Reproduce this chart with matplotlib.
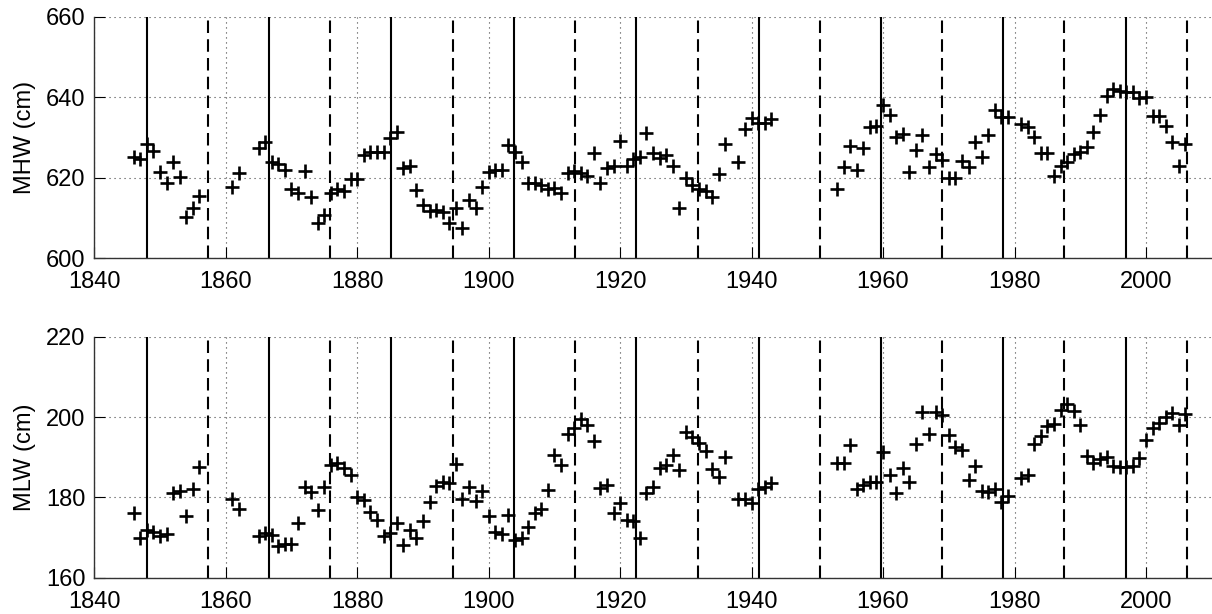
import matplotlib
matplotlib.use("Agg")
import matplotlib.pyplot as plt
import numpy as np

plt.rcParams['font.family'] = ['Liberation Sans', 'DejaVu Sans']

years = ([1846, 1847, 1848, 1849, 1850, 1851, 1852, 1853, 1854, 1855, 1856,
          1861, 1862]
         + list(range(1865, 1937)) + list(range(1938, 1944))
         + list(range(1953, 1980)) + list(range(1981, 2007)))

mhw = [625.2, 624.7, 628.4, 626.7, 621.5, 618.8, 623.8, 620.3, 610.2, 612.4, 615.5,
       617.6, 621.1,
       # 1865-1936
       627.3, 629.0, 624.0, 623.4, 621.9, 617.1, 616.2, 621.8, 615.2, 608.7,
       610.8, 616.2, 617.1, 616.6, 619.6, 619.6, 625.7, 626.5, 626.5, 626.5,
       629.8, 631.4, 622.4, 622.8, 617.0, 613.2, 611.8, 612.0, 611.6, 608.8,
       612.4, 607.6, 614.6, 612.4, 617.8, 621.5, 621.9, 621.9, 628.1, 626.5,
       623.8, 618.8, 618.8, 618.2, 617.1, 617.4, 616.3, 621.3, 621.8, 621.1,
       620.5, 626.2, 618.8, 622.4, 622.8, 629.2, 622.9, 624.6, 625.2, 631.1,
       626.1, 624.8, 625.7, 622.8, 612.4, 619.9, 618.2, 617.2, 616.8, 615.3,
       620.9, 628.5,
       # 1938-1943
       623.8, 632.0, 634.8, 633.7, 633.7, 634.5,
       # 1953-1979
       617.2, 622.7, 628.0, 621.9, 627.5, 632.7, 632.8, 638.1, 635.6, 630.2,
       630.8, 621.5, 626.9, 630.6, 622.7, 625.9, 624.4, 619.9, 619.9, 624.2,
       622.7, 628.8, 625.2, 630.6, 636.8, 635.2, 635.0,
       # 1981-2006
       633.3, 632.5, 630.2, 626.2, 626.2, 620.5, 623.0, 624.0, 625.9, 626.5,
       627.7, 631.3, 635.6, 640.3, 642.0, 641.6, 641.4, 641.4, 639.9, 640.1,
       635.3, 635.3, 632.8, 628.8, 623.0, 628.3]

mlw = [176.0, 170.0, 172.0, 171.5, 170.5, 171.0, 181.2, 181.6, 175.4, 182.0, 187.6,
       179.6, 177.0,
       # 1865-1936
       170.5, 171.1, 170.6, 168.0, 168.5, 168.3, 173.7, 182.7, 181.4, 176.9,
       182.7, 188.1, 188.5, 187.2, 185.6, 180.2, 179.3, 176.4, 174.4, 170.4,
       171.1, 173.6, 168.1, 171.9, 170.0, 174.0, 178.9, 182.8, 183.9, 183.7,
       188.3, 179.5, 182.7, 179.2, 181.6, 175.4, 171.5, 171.0, 175.6, 169.5,
       169.8, 172.7, 176.0, 177.1, 181.8, 190.5, 188.0, 195.9, 197.3, 199.5,
       198.0, 194.0, 182.4, 183.2, 176.0, 178.7, 174.4, 174.0, 170.0, 181.0,
       182.5, 187.2, 188.0, 190.5, 186.8, 196.3, 195.1, 193.6, 191.5, 187.1,
       185.1, 190.1,
       # 1938-1943
       179.5, 179.5, 178.5, 182.0, 182.7, 183.5,
       # 1953-1979
       188.6, 188.6, 193.0, 182.0, 183.2, 183.9, 183.9, 191.4, 185.6, 181.2,
       187.2, 183.9, 193.4, 201.3, 195.7, 201.3, 200.5, 195.5, 192.6, 191.8,
       184.3, 187.8, 181.7, 181.4, 182.2, 178.9, 180.3,
       # 1981-2006
       184.9, 185.6, 193.3, 195.3, 197.8, 198.3, 201.8, 203.2, 201.5, 198.0,
       190.3, 188.6, 189.5, 190.0, 187.9, 187.6, 187.6, 187.9, 189.7, 194.3,
       197.2, 198.4, 199.9, 200.9, 198.0, 200.7]

nodal_max = [1848.0, 1866.6, 1885.2, 1903.8, 1922.4, 1941.1, 1959.7, 1978.3, 1996.9]
nodal_min = [1857.3, 1875.9, 1894.5, 1913.1, 1931.8, 1950.4, 1969.0, 1987.6, 2006.2]

xticks = [1840, 1860, 1880, 1900, 1920, 1940, 1960, 1980, 2000]
mhw_ticks = [600, 620, 640, 660]
mlw_ticks = [160, 180, 200, 220]
ylabels = ['MHW (cm)', 'MLW (cm)']

fig = plt.figure(figsize=(12.12, 6.14), dpi=100)
W, H = 1212, 614
left = 94.3 / W
width = (1211.7 - 94.3) / W
ax1 = fig.add_axes([left, 1 - 258.3 / H, width, 241.6 / H])
ax2 = fig.add_axes([left, 1 - 577.7 / H, width, 241.0 / H])

for ax, vals, yt, lab in [(ax1, mhw, mhw_ticks, ylabels[0]), (ax2, mlw, mlw_ticks, ylabels[1])]:
    ax.set_xlim(1840, 2010)
    ax.set_ylim(yt[0], yt[-1])
    ax.set_xticks(xticks)
    ax.set_yticks(yt)
    ax.grid(True, color='#444444', linestyle=(0, (1, 3.5)), linewidth=0.8)
    ax.set_axisbelow(True)
    for xv in nodal_max:
        ax.axvline(xv, color='black', linewidth=1.5, zorder=2)
    for xv in nodal_min:
        l = ax.axvline(xv, color='black', linewidth=1.5, zorder=2)
        l.set_dashes((6, 3))
    ax.plot(years, vals, linestyle='none', marker='+', markersize=10,
            markeredgewidth=1.9, color='black', zorder=3)
    ax.spines['top'].set_visible(False)
    ax.spines['right'].set_visible(False)
    for s in ['left', 'bottom']:
        ax.spines[s].set_color('#333333')
        ax.spines[s].set_linewidth(1.0)
    ax.tick_params(direction='in', length=8, width=0.8, labelsize=17,
                   colors='black')
    ax.tick_params(axis='y', pad=6.5)
    ax.tick_params(axis='x', pad=9.5)
    ax.set_ylabel(lab, fontsize=17)
    ax.yaxis.set_label_coords(-0.052, 0.5)

fig.savefig('out.png', dpi=100)
